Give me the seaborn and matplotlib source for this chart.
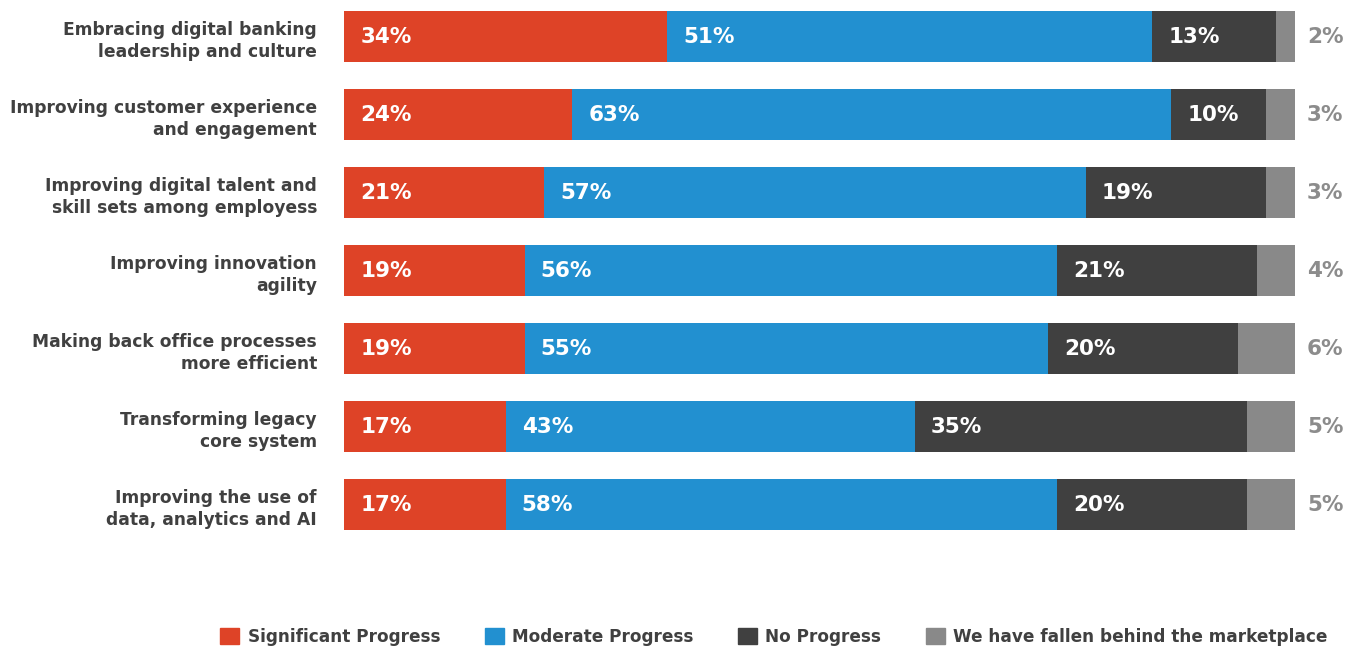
import matplotlib
matplotlib.use("Agg")
import matplotlib.pyplot as plt
import matplotlib.patches as mpatches
import seaborn as sns
import pandas as pd
import numpy as np

categories = [
    "Embracing digital banking\nleadership and culture",
    "Improving customer experience\nand engagement",
    "Improving digital talent and\nskill sets among employess",
    "Improving innovation\nagility",
    "Making back office processes\nmore efficient",
    "Transforming legacy\ncore system",
    "Improving the use of\ndata, analytics and AI",
]
significant = [34, 24, 21, 19, 19, 17, 17]
moderate = [51, 63, 57, 56, 55, 43, 58]
no_progress = [13, 10, 19, 21, 20, 35, 20]
fallen = [2, 3, 3, 4, 6, 5, 5]
series_names = ["Significant Progress", "Moderate Progress", "No Progress",
                "We have fallen behind the marketplace"]
colors = ["#DE4327", "#2290D0", "#404040", "#898989"]

sns.set_theme(style="white")
plt.rcParams['font.family'] = ['DejaVu Sans']

df = pd.DataFrame({"cat": categories, "s": significant, "m": moderate,
                   "n": no_progress, "f": fallen})
c1 = df["s"].values
c2 = c1 + df["m"].values
c3 = c2 + df["n"].values
c4 = c3 + df["f"].values

fig = plt.figure(figsize=(13.51, 6.47), dpi=100)
ax = fig.add_axes([344 / 1351, 1 - 560 / 647, 951 / 1351, 560 / 647])

for cum, col in zip([c4, c3, c2, c1], colors[::-1]):
    sns.barplot(x=cum, y=df["cat"], orient="h", color=col, width=0.654,
                saturation=1, ax=ax, linewidth=0)

ax.set_xlim(0, 100)
ax.set_ylim(-0.468 + (560 / 78), -0.468)
ax.set_xlabel("")
ax.set_ylabel("")
ax.set_xticks([])
for s in ax.spines.values():
    s.set_visible(False)
ax.tick_params(axis="y", length=0, pad=19.5)
for lab in ax.get_yticklabels():
    lab.set_fontsize(12.3)
    lab.set_color("#404040")
    lab.set_fontweight("bold")
    lab.set_horizontalalignment("right")
    lab.set_linespacing(1.32)

starts = [np.zeros(len(c1)), c1, c2]
vals = [df["s"].values, df["m"].values, df["n"].values]
for st, vv in zip(starts, vals):
    for i, (a, v) in enumerate(zip(st, vv)):
        ax.text(a + 1.7, i, f"{v}%", color="white", fontsize=15.5,
                fontweight="bold", va="center", ha="left")
for i, (t, v) in enumerate(zip(c4, df["f"].values)):
    ax.text(t + 1.25, i, f"{v}%", color="#8C8C8C", fontsize=15.5,
            fontweight="bold", va="center", ha="left")

handles = [mpatches.Patch(color=c, label=n) for c, n in zip(colors, series_names)]
fig.legend(handles=handles, loc="center", bbox_to_anchor=(0.573, 0.0155),
           ncol=4, frameon=False, handlelength=1.1,
           handleheight=1.1, handletextpad=0.5, columnspacing=2.65,
           prop={"weight": "bold", "size": 12.2}, labelcolor="#404040")

fig.savefig("out.png", dpi=100)
